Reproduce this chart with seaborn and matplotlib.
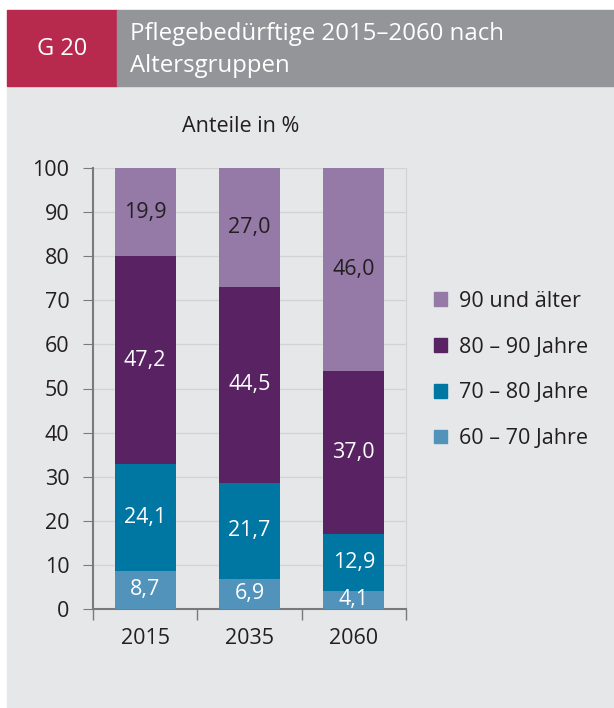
import numpy as np
import pandas as pd
import matplotlib
matplotlib.use("Agg")
import matplotlib.pyplot as plt
import seaborn as sns
from matplotlib.patches import Rectangle, Patch

years = ["2015", "2035", "2060"]
groups = ["60 – 70 Jahre", "70 – 80 Jahre", "80 – 90 Jahre", "90 und älter"]
share_60_70 = [8.7, 6.9, 4.1]
share_70_80 = [24.1, 21.7, 12.9]
share_80_90 = [47.2, 44.5, 37.0]
share_90_plus = [19.9, 27.0, 46.0]
colors = ["#5193bb", "#0076a3", "#582263", "#9579a6"]
text_colors = ["white", "white", "white", "#231f20"]

sns.set_style("white")
plt.rcParams["font.family"] = ["Open Sans", "DejaVu Sans"]

df = pd.DataFrame({"Jahr": years, groups[0]: share_60_70, groups[1]: share_70_80,
                   groups[2]: share_80_90, groups[3]: share_90_plus})
cum = df[groups].cumsum(axis=1)

fs = 15.5
fig = plt.figure(figsize=(6.14, 7.08), dpi=100)
fig.patch.set_facecolor("white")
# background panel and header
fig.add_artist(Rectangle((7/614, 0), 607/614, 1 - 86/708, transform=fig.transFigure,
                         color="#e6e7e9", zorder=0))
fig.add_artist(Rectangle((7/614, 1 - 86/708), 110/614, 76/708, transform=fig.transFigure,
                         color="#b8294e", zorder=0))
fig.add_artist(Rectangle((117/614, 1 - 86/708), 497/614, 76/708, transform=fig.transFigure,
                         color="#939598", zorder=0))
fig.text(62/614, 1 - 49/708, "G 20", color="white", fontsize=17, ha="center", va="center")
fig.text(130/614, 1 - 50/708, "Pflegebedürftige 2015–2060 nach\nAltersgruppen", color="white",
         fontsize=17.3, ha="left", va="center", linespacing=1.4)

ax = fig.add_axes([93/614, 1 - 609/708, 313/614, 441/708])
ax.set_facecolor("#e6e7e9")

# stacked bars: draw cumulative totals from top layer down
for i in range(len(groups) - 1, -1, -1):
    sns.barplot(x=df["Jahr"], y=cum[groups[i]], color=colors[i], width=0.585,
                saturation=1, linewidth=0, ax=ax, zorder=3)

for j in range(len(years)):
    lower = 0
    for i, g in enumerate(groups):
        v = df[g][j]
        ax.text(j, lower + v / 2, f"{v:.1f}".replace(".", ","), ha="center", va="center",
                fontsize=fs, color=text_colors[i], zorder=5, clip_on=True)
        lower += v

ax.set_ylim(0, 100)
ax.set_xlim(-0.5, 2.5)
ax.set_yticks(range(0, 101, 10))
ax.set_xlabel("")
ax.set_ylabel("")
ax.grid(axis="y", color="#d2d3d5", linewidth=1, zorder=0)
ax.set_axisbelow(True)
ax.spines["top"].set_visible(False)
ax.spines["right"].set_color("#d2d3d5")
ax.spines["left"].set_color("#7a7a7c")
ax.spines["bottom"].set_color("#7a7a7c")
ax.spines["left"].set_linewidth(1.5)
ax.spines["bottom"].set_linewidth(1.5)
ax.tick_params(axis="y", left=True, length=7, color="#7a7a7c", labelsize=fs,
               labelcolor="#231f20", pad=10)
ax.tick_params(axis="x", bottom=False, labelsize=fs, labelcolor="#231f20", pad=10)
ax.set_xticks([-0.5, 0.5, 1.5, 2.5], minor=True)
ax.tick_params(axis="x", which="minor", bottom=True, length=8, width=1, color="#7a7a7c")
fig.text(241/614, 1 - 127/708, "Anteile in %", fontsize=fs, color="#231f20",
         ha="center", va="center")

handles = [Patch(color=colors[i], label=groups[i]) for i in range(len(groups) - 1, -1, -1)]
fig.legend(handles=handles, loc="center left", bbox_to_anchor=(415/614, 1 - 370/708),
           frameon=False, fontsize=fs, handlelength=0.6, handleheight=0.6,
           labelspacing=1.15, handletextpad=0.55, labelcolor="#231f20")

fig.savefig("out.png", dpi=100, facecolor=fig.get_facecolor())
